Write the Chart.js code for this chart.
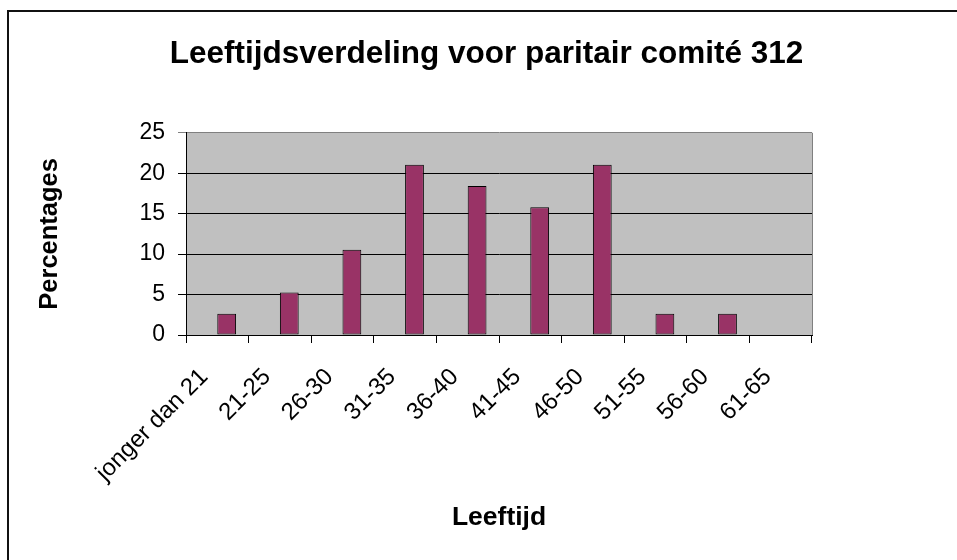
<!DOCTYPE html>
<html lang="nl">
<head>
    <meta charset="UTF-8">
    <title>Leeftijdsverdeling voor paritair comité 312</title>
    <style>
        body {
            margin: 0;
            background: #fff;
            overflow: hidden;
        }
        .frame {
            position: absolute;
            left: 7px;
            top: 10px;
            width: 1200px;
            height: 800px;
            border-left: 2px solid #111;
            border-top: 2px solid #111;
            pointer-events: none;
        }
        .chart-box {
            position: absolute;
            left: 0;
            top: 0;
            width: 973px;
            height: 560px;
        }
    </style>
    <script src="https://cdn.jsdelivr.net/npm/chart.js"></script>
</head>
<body>
    <div class="chart-box"><canvas id="ageChart"></canvas></div>
    <div class="frame"></div>

    <script>
        // Age groups and percentages per group
        const ageGroups = ['jonger dan 21', '21-25', '26-30', '31-35', '36-40', '41-45', '46-50', '51-55', '56-60', '61-65'];
        const percentages = [2.63, 5.26, 10.53, 21.05, 18.42, 15.79, 21.05, 2.63, 2.63, 0];
        // the original sheet has an empty first series, which pushes the bars right of centre
        const emptySeries = [null, null, null, null, null, null, null, null, null, null];
        const yTicks = [0, 5, 10, 15, 20, 25];

        Chart.defaults.font.family = '"Liberation Sans", Arial, sans-serif';
        Chart.defaults.color = '#000';

        // grey plot area + grey right edge, like the old Excel chart
        const plotArea = {
            id: 'plotArea',
            beforeDraw(chart) {
                const { ctx, chartArea: a } = chart;
                ctx.save();
                ctx.fillStyle = '#c0c0c0';
                ctx.fillRect(a.left, a.top, a.right - a.left, a.bottom - a.top);
                ctx.restore();
            },
            afterDraw(chart) {
                const { ctx, chartArea: a } = chart;
                ctx.save();
                ctx.strokeStyle = '#808080';
                ctx.lineWidth = 1;
                ctx.beginPath();
                ctx.moveTo(Math.round(a.right) + 0.5, a.top);
                ctx.lineTo(Math.round(a.right) + 0.5, a.bottom);
                ctx.stroke();
                ctx.restore();
            }
        };

        const ctx = document.getElementById('ageChart').getContext('2d');
        new Chart(ctx, {
            type: 'bar',
            data: {
                labels: ageGroups,
                datasets: [{
                    label: 'Reeks1',
                    data: emptySeries,
                    backgroundColor: '#993366'
                }, {
                    label: 'Percentages',
                    data: percentages,
                    backgroundColor: '#993366',
                    borderColor: '#000',
                    borderWidth: 1,
                    borderSkipped: false
                }]
            },
            options: {
                responsive: true,
                maintainAspectRatio: false,
                animation: false,
                categoryPercentage: 0.6,
                barPercentage: 1.0,
                layout: { padding: 0 },
                plugins: {
                    legend: { display: false },
                    tooltip: { enabled: false },
                    title: {
                        display: true,
                        text: 'Leeftijdsverdeling voor paritair comité 312',
                        color: '#000',
                        font: { size: 31.5, weight: 'bold' },
                        padding: { top: 35, bottom: 60 }
                    }
                },
                scales: {
                    x: {
                        offset: true,
                        grid: {
                            display: true,
                            offset: true,
                            drawOnChartArea: false,
                            drawTicks: true,
                            tickLength: 8,
                            color: '#000'
                        },
                        border: { display: true, color: '#000', z: 1 },
                        ticks: {
                            autoSkip: false,
                            maxRotation: 45,
                            minRotation: 45,
                            padding: 20,
                            labelOffset: -13,
                            color: '#000',
                            font: { size: 24 }
                        },
                        title: {
                            display: true,
                            text: 'Leeftijd',
                            color: '#000',
                            font: { size: 26.5, weight: 'bold' },
                            padding: { top: 0, bottom: 26 }
                        },
                        afterFit(scale) { scale.height = 225; }
                    },
                    y: {
                        min: 0,
                        max: 25,
                        afterBuildTicks(scale) { scale.ticks = yTicks.map(v => ({ value: v })); },
                        grid: {
                            color: c => (c.tick && c.tick.value === 25 ? '#808080' : '#000'),
                            tickLength: 8
                        },
                        border: { display: true, color: '#000', z: 1 },
                        ticks: {
                            padding: 13,
                            color: '#000',
                            font: { size: 23 }
                        },
                        title: {
                            display: true,
                            text: 'Percentages',
                            color: '#000',
                            font: { size: 25.5, weight: 'bold' },
                            padding: { top: 35, bottom: 0 }
                        },
                        afterFit(scale) { scale.width = 186; }
                    },
                    // spacer on the right so the plot ends where the original does
                    y2: {
                        position: 'right',
                        display: true,
                        grid: { display: false },
                        border: { display: false },
                        ticks: { display: false },
                        afterFit(scale) { scale.width = 161; }
                    }
                }
            },
            plugins: [plotArea]
        });
    </script>
</body>
</html>
